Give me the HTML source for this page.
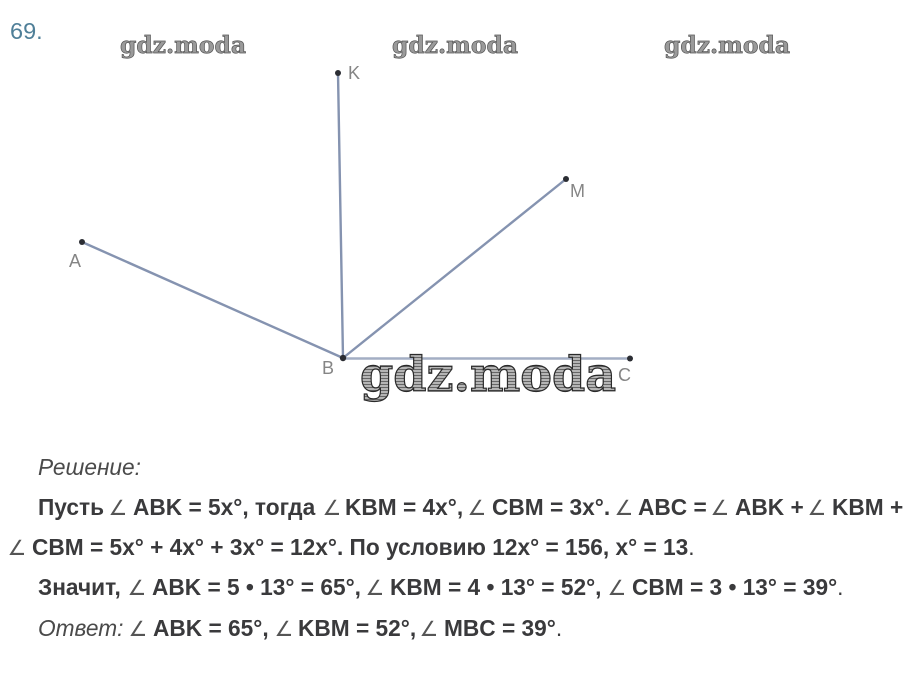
<!DOCTYPE html>
<html>
<head>
<meta charset="utf-8">
<style>
html,body{margin:0;padding:0;background:#fff;width:911px;height:680px;overflow:hidden}
svg{display:block}
.t{font-family:"Liberation Sans",sans-serif;font-size:22.7px;fill:#3a3a3c}
.b{font-weight:bold}
.i{font-style:italic;font-weight:normal;fill:#4a4a4a}
.a{font-family:"DejaVu Sans",sans-serif;font-size:21px;font-weight:normal;fill:#555}
.lab{font-family:"Liberation Sans",sans-serif;font-size:18px;fill:#858585}
.w{font-family:"DejaVu Serif",serif;font-weight:bold;fill:#9a9a9a;stroke:#555;stroke-width:.7px}
.W{font-family:"DejaVu Serif",serif;font-weight:bold;fill:url(#hatch);stroke:#2a2a2a;stroke-width:1.2px}
</style>
</head>
<body>
<svg width="911" height="680" viewBox="0 0 911 680" xmlns="http://www.w3.org/2000/svg">
<defs>
<pattern id="hatch" width="4" height="3" patternUnits="userSpaceOnUse">
<rect width="4" height="3" fill="#b5b5b5"/>
<rect width="4" height="1" fill="#666"/>
</pattern>
</defs>
<rect width="911" height="680" fill="#fff"/>
<text x="10" y="39" font-family="Liberation Sans, sans-serif" font-size="23.500" fill="#4f7f98">69.</text>

<text class="w" x="120" y="53" font-size="23" textLength="126" lengthAdjust="spacingAndGlyphs">gdz.moda</text>
<text class="w" x="392" y="53" font-size="23" textLength="126" lengthAdjust="spacingAndGlyphs">gdz.moda</text>
<text class="w" x="664" y="53" font-size="23" textLength="126" lengthAdjust="spacingAndGlyphs">gdz.moda</text>

<g stroke="#8593b0" stroke-width="2.400" fill="none" stroke-linecap="round">
<line x1="338" y1="73" x2="343" y2="358"/>
<line x1="82" y1="242" x2="343" y2="358"/>
<line x1="566" y1="179" x2="343" y2="358"/>
<line x1="343" y1="358.500" x2="630" y2="358.500" stroke="#a3aec4" stroke-width="2.500"/>
</g>
<g fill="#2b2d33">
<circle cx="338" cy="73" r="3"/>
<circle cx="82" cy="242" r="3"/>
<circle cx="566" cy="179" r="3"/>
<circle cx="343" cy="358" r="3.200"/>
<circle cx="630" cy="358.500" r="3"/>
</g>
<text class="lab" x="348" y="79">K</text>
<text class="lab" x="570" y="197">M</text>
<text class="lab" x="69" y="267">A</text>
<text class="lab" x="322" y="374">B</text>
<text class="lab" x="618" y="381">C</text>

<text class="W" x="360" y="391" font-size="48" textLength="256" lengthAdjust="spacingAndGlyphs">gdz.moda</text>

<text class="t i" x="38" y="475">Решение:</text>

<g class="t b">
<text class="t b" x="38" y="515">Пусть</text>
<text class="a" x="108.500" y="515">∠</text>
<text class="t b" x="133" y="515">ABK = 5x°, тогда</text>
<text class="a" x="322.500" y="515">∠</text>
<text class="t b" x="345" y="515">KBM = 4x°,</text>
<text class="a" x="467.500" y="515">∠</text>
<text class="t b" x="492" y="515">CBM = 3x°.</text>
<text class="a" x="614.500" y="515">∠</text>
<text class="t b" x="638" y="515">ABC =</text>
<text class="a" x="710.500" y="515">∠</text>
<text class="t b" x="735" y="515">ABK +</text>
<text class="a" x="807.500" y="515">∠</text>
<text class="t b" x="832" y="515">KBM +</text>

<text class="a" x="7.500" y="555">∠</text>
<text class="t b" x="32" y="555">CBM = 5x° + 4x° + 3x° = 12x°. По условию 12x° = 156, x° = 13<tspan font-weight="normal">.</tspan></text>

<text class="t b" x="38" y="595">Значит,</text>
<text class="a" x="127.500" y="595">∠</text>
<text class="t b" x="152" y="595">ABK = 5 • 13° = 65°,</text>
<text class="a" x="365.500" y="595">∠</text>
<text class="t b" x="390" y="595">KBM = 4 • 13° = 52°,</text>
<text class="a" x="607.500" y="595">∠</text>
<text class="t b" x="632" y="595">CBM = 3 • 13° = 39°<tspan font-weight="normal">.</tspan></text>

<text class="t i" x="38" y="636">Ответ:</text>
<text class="a" x="128.500" y="636">∠</text>
<text class="t b" x="153" y="636">ABK = 65°,</text>
<text class="a" x="274.500" y="636">∠</text>
<text class="t b" x="298" y="636">KBM = 52°,</text>
<text class="a" x="419.500" y="636">∠</text>
<text class="t b" x="444" y="636">MBC = 39°<tspan font-weight="normal">.</tspan></text>
</g>
</svg>
</body>
</html>
